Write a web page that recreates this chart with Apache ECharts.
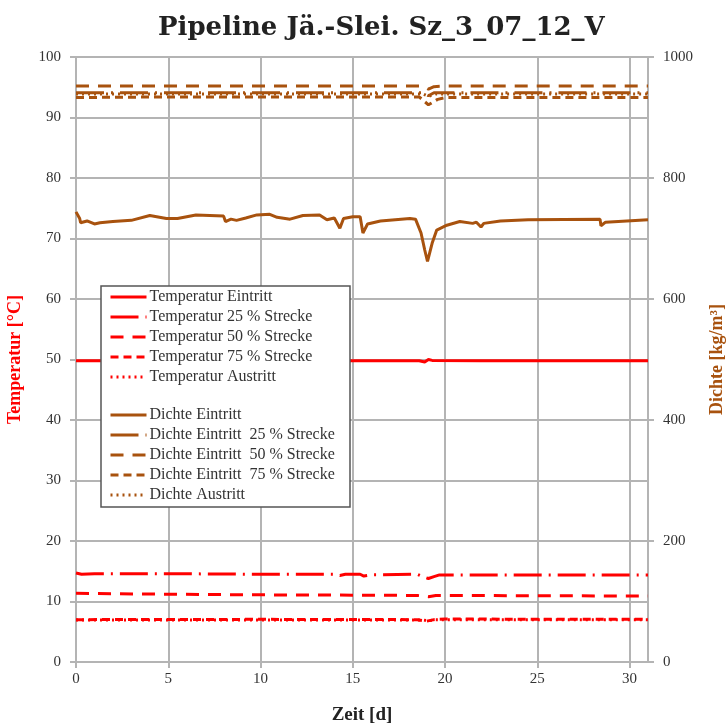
<!DOCTYPE html>
<html>
<head>
<meta charset="utf-8">
<script src="https://cdn.jsdelivr.net/npm/echarts@6/dist/echarts.min.js"></script>
<style>html,body{margin:0;padding:0;background:#fff}#c{width:726px;height:726px}</style>
</head>
<body>
<div id="c"></div>
<script>
// ---- data ----
const titleText = 'Pipeline Jä.-Slei. Sz_3_07_12_V';
const xTicks = [0, 5, 10, 15, 20, 25, 30];
const tempNames = ['Temperatur Eintritt', 'Temperatur 25 % Strecke', 'Temperatur 50 % Strecke', 'Temperatur 75 % Strecke', 'Temperatur Austritt'];
const densNames = ['Dichte Eintritt', 'Dichte Eintritt  25 % Strecke', 'Dichte Eintritt  50 % Strecke', 'Dichte Eintritt  75 % Strecke', 'Dichte Austritt'];

const tempEin = [[0,49.8],[15.4,49.8],[15.5,49.6],[15.6,49.8],[18.6,49.8],[18.7,49.6],[18.9,49.6],[19.1,50.0],[19.3,49.85],[21.9,49.8],[22.0,49.7],[22.1,49.8],[28.4,49.8],[28.5,49.65],[28.6,49.8],[31,49.8]];
const temp25 = [[0,14.7],[0.3,14.5],[1,14.6],[5,14.6],[10,14.5],[14,14.5],[14.3,14.3],[14.6,14.5],[15.4,14.5],[15.6,14.2],[16,14.4],[18.5,14.5],[18.8,14.1],[19.1,13.8],[19.4,14.1],[19.7,14.4],[25,14.4],[31,14.4]];
const temp50 = [[0,11.35],[5,11.2],[10,11.1],[15,11.05],[18.5,11.0],[19.1,10.8],[19.5,11.0],[25,10.95],[31,10.9]];
const temp75 = [[0,7.0],[10,7.05],[18.5,7.0],[19.0,6.75],[19.4,7.0],[20,7.1],[31,7.05]];
const tempAus = [[0,6.95],[18.8,6.95],[19.1,6.8],[19.5,7.0],[31,7.0]];

const densEin = [[0,744],[0.2,733],[0.25,726],[0.6,729],[1.0,724],[1.3,726],[2,728],[3,730],[4.0,738],[4.9,733],[5.5,733],[6.5,739],[8.0,737],[8.1,728],[8.4,732],[8.7,730],[9.2,734],[9.8,739],[10.5,740],[10.9,735],[11.6,732],[12.3,738],[13.2,739],[13.6,731],[14.0,734],[14.3,717],[14.5,733],[15.0,736],[15.4,736],[15.55,709],[15.8,724],[16.5,729],[18.1,733],[18.4,732],[18.7,709],[18.9,681],[19.05,662],[19.3,692],[19.55,714],[20.1,722],[20.8,728],[21.5,725],[21.7,727],[21.95,719],[22.1,725],[23.0,729],[24.5,731],[28.4,732],[28.45,721],[28.7,727],[31,731]];
const dens25 = [[0,941],[5,941],[10,941],[15,941],[18.8,941],[19.1,936],[19.4,941],[31,941]];
const dens50 = [[0,952],[5,952],[10,952],[15,952],[18.8,952],[19.1,947],[19.4,951],[20,952],[31,952]];
const dens75 = [[0,933],[5,934],[10,934],[15,934],[18.6,934],[19.1,921],[19.6,930],[20,933],[31,933]];
const densAus = [[0,939],[10,939],[18.8,939],[19.1,935],[19.5,939],[31,939]];

// ---- chart ----
const RED = '#ff0000';
const BROWN = '#a8520e';
const FONT = '"Liberation Serif", "DejaVu Serif", serif';
const TFONT = '"DejaVu Serif", serif';
const DASH = {
  solid: 'solid',
  d25: [28, 7, 2, 7],
  d50: [13, 9],
  d75: [8, 5],
  dot: [2, 4]
};
function mk(name, data, color, dash, yIdx) {
  return {
    name: name, type: 'line', data: data, yAxisIndex: yIdx,
    symbol: 'none', showSymbol: false, animation: false,
    lineStyle: { color: color, width: 3, type: dash },
    itemStyle: { color: color }
  };
}
const series = [
  mk(tempNames[0], tempEin, RED, DASH.solid, 0),
  mk(tempNames[1], temp25, RED, DASH.d25, 0),
  mk(tempNames[2], temp50, RED, DASH.d50, 0),
  mk(tempNames[3], temp75, RED, DASH.d75, 0),
  mk(tempNames[4], tempAus, RED, DASH.dot, 0),
  mk(densNames[0], densEin, BROWN, DASH.solid, 1),
  mk(densNames[1], dens25, BROWN, DASH.d25, 1),
  mk(densNames[2], dens50, BROWN, DASH.d50, 1),
  mk(densNames[3], dens75, BROWN, DASH.d75, 1),
  mk(densNames[4], densAus, BROWN, DASH.dot, 1)
];
const gridColor = '#b4b4b4';
const labelStyle = { fontFamily: FONT, fontSize: 15, color: '#333' };
const legendBase = {
  orient: 'vertical', left: 104, itemWidth: 36, itemHeight: 14, itemGap: 4,
  zlevel: 1, z: 4,
  itemStyle: { opacity: 0 },
  lineStyle: { width: 3 },
  textStyle: { fontFamily: FONT, fontSize: 16, lineHeight: 14, color: '#333', padding: [0,0,0,-2] },
  selectedMode: false
};
const chart = echarts.init(document.getElementById('c'));
chart.setOption({
  animation: false,
  backgroundColor: '#fff',
  title: {
    text: titleText, left: 153, top: 10,
    textStyle: { fontFamily: TFONT, fontSize: 26, fontWeight: 'bold', color: '#222' }
  },
  grid: { left: 76, right: 78, top: 57, bottom: 64, outerBoundsMode: 'none', containLabel: false },
  xAxis: {
    type: 'value', min: 0, max: 31, interval: 5,
    name: 'Zeit [d]', nameLocation: 'middle', nameGap: 44,
    nameTextStyle: { fontFamily: FONT, fontSize: 19, fontWeight: 'bold', color: '#222' },
    axisLine: { lineStyle: { color: gridColor, width: 2 } },
    axisTick: { show: true, length: 6, lineStyle: { color: gridColor, width: 2 } },
    axisLabel: Object.assign({ margin: 10, showMaxLabel: false }, labelStyle),
    splitLine: { show: true, lineStyle: { color: gridColor, width: 2 } }
  },
  yAxis: [{
    type: 'value', min: 0, max: 100, interval: 10, position: 'left',
    name: 'Temperatur [°C]', nameLocation: 'middle', nameGap: 52, nameRotate: 90,
    nameTextStyle: { fontFamily: FONT, fontSize: 18, fontWeight: 'bold', color: RED },
    axisLine: { show: true, lineStyle: { color: gridColor, width: 2 } },
    axisTick: { show: true, length: 6, lineStyle: { color: gridColor, width: 2 } },
    axisLabel: Object.assign({ margin: 15 }, labelStyle),
    splitLine: { show: true, lineStyle: { color: gridColor, width: 2 } }
  }, {
    type: 'value', min: 0, max: 1000, interval: 200, position: 'right',
    name: 'Dichte [kg/m³]', nameLocation: 'middle', nameGap: 60, nameRotate: 90,
    nameTextStyle: { fontFamily: FONT, fontSize: 18, fontWeight: 'bold', color: BROWN },
    axisLine: { show: true, lineStyle: { color: gridColor, width: 2 } },
    axisTick: { show: true, length: 6, lineStyle: { color: gridColor, width: 2 } },
    axisLabel: Object.assign({ margin: 15, formatter: function (v) { return String(v); } }, labelStyle),
    splitLine: { show: false }
  }],
  legend: [
    Object.assign({ top: 284, data: tempNames }, legendBase),
    Object.assign({ top: 402, data: densNames }, legendBase)
  ],
  graphic: {
    zlevel: 1, z: 0,
    elements: [{
      type: 'rect', zlevel: 1, z: 0,
      shape: { x: 101, y: 286, width: 249, height: 221 },
      style: { fill: '#fff', stroke: '#555', lineWidth: 1.5 }
    }]
  },
  series: series
});
</script>
</body>
</html>
